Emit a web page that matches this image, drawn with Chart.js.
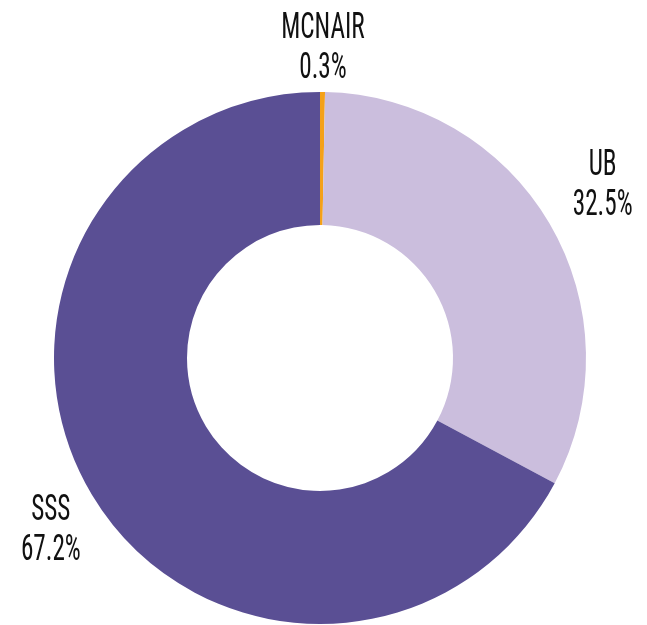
<!DOCTYPE html>
<html>
<head>
<meta charset="utf-8">
<script src="https://cdn.jsdelivr.net/npm/chart.js@4/dist/chart.umd.min.js"></script>
<style>
  html, body { margin: 0; padding: 0; background: #fff; }
  #wrap { width: 647px; height: 625px; position: relative; }
</style>
</head>
<body>
<div id="wrap"><canvas id="donutChart"></canvas></div>
<script>
// Data
const categories = ['MCNAIR', 'UB', 'SSS'];
const shares = [0.3, 32.5, 67.2];
const sliceColors = ['#f4a118', '#cbbedd', '#5a4f94'];

// Outside labels: name on top, percentage below
const outsideLabels = {
  id: 'outsideLabels',
  afterDatasetsDraw(chart) {
    const ctx = chart.ctx;
    const meta = chart.getDatasetMeta(0);
    const nudges = [{ dx: 0, dy: 5 }, { dx: 12, dy: -13 }, { dx: 0, dy: 12 }];
    ctx.save();
    ctx.fillStyle = '#111';
    ctx.font = '400 36px "Liberation Sans Narrow", "Roboto Condensed", "DejaVu Sans Condensed", Roboto, sans-serif';
    ctx.textAlign = 'center';
    ctx.textBaseline = 'middle';
    meta.data.forEach((arc, i) => {
      const mid = (arc.startAngle + arc.endAngle) / 2;
      const r = arc.outerRadius * 1.18;
      const x = arc.x + Math.cos(mid) * r + nudges[i].dx;
      const y = arc.y + Math.sin(mid) * r + nudges[i].dy;
      [categories[i], shares[i].toFixed(1) + '%'].forEach((line, k) => {
        ctx.save();
        ctx.translate(x, y - 20 + k * 40);
        ctx.scale(0.7, 1);
        ctx.fillText(line, 0, 0);
        ctx.restore();
      });
    });
    ctx.restore();
  }
};

new Chart(document.getElementById('donutChart').getContext('2d'), {
  type: 'doughnut',
  data: {
    labels: categories,
    datasets: [{
      data: shares,
      backgroundColor: sliceColors,
      borderWidth: 0
    }]
  },
  options: {
    responsive: true,
    maintainAspectRatio: false,
    animation: false,
    cutout: '50%',
    layout: { padding: { left: 54, right: 61, top: 92, bottom: 1 } },
    plugins: {
      legend: { display: false },
      tooltip: { enabled: false }
    }
  },
  plugins: [outsideLabels]
});
</script>
</body>
</html>
